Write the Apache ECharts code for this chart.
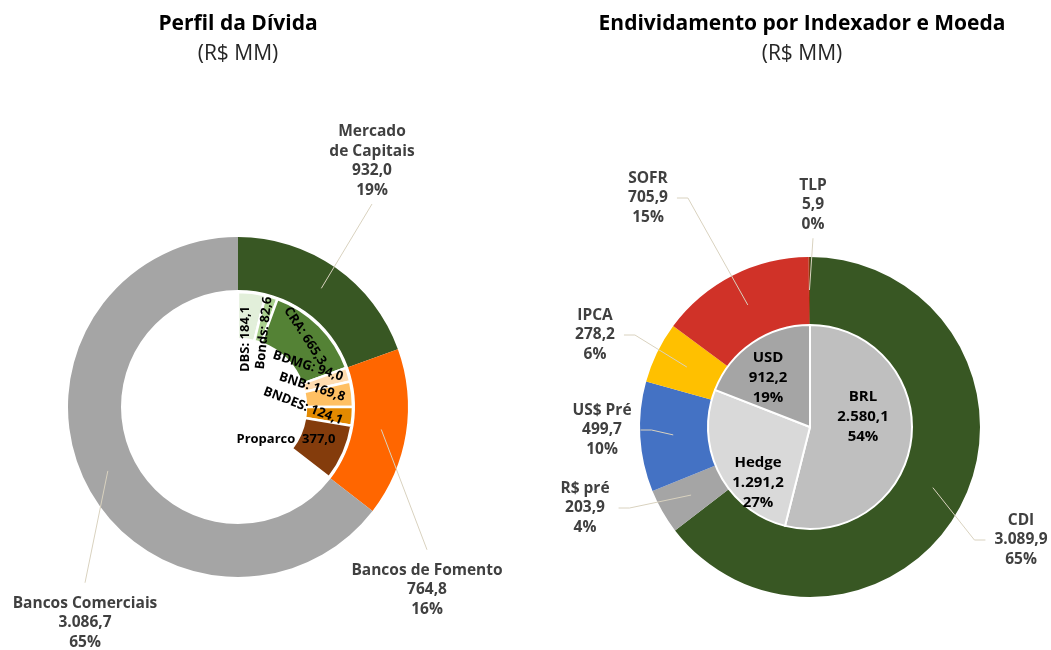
<!DOCTYPE html>
<html>
<head>
<meta charset="utf-8">
<script src="https://cdn.jsdelivr.net/npm/echarts@6/dist/echarts.min.js"></script>
<style>
  html, body { margin: 0; padding: 0; background: #fff; }
  #chart { width: 1051px; height: 650px; }
</style>
</head>
<body>
<div id="chart"></div>
<script>
// Perfil da Dívida (R$ MM)
var perfilNomes = ['Mercado\nde Capitais', 'Bancos de Fomento', 'Bancos Comerciais'];
var perfilValores = [932.0, 764.8, 3086.7];
var detalheNomes = ['DBS', 'Bonds', 'CRA', 'BDMG', 'BNB', 'BNDES', 'Proparco'];
var detalheValores = [184.1, 82.6, 665.3, 94.0, 169.8, 124.1, 377.0];

// Endividamento por Indexador e Moeda (R$ MM)
var indexNomes = ['CDI', 'R$ pré', 'US$ Pré', 'IPCA', 'SOFR', 'TLP'];
var indexValores = [3089.9, 203.9, 499.7, 278.2, 705.9, 5.9];
var moedaNomes = ['BRL', 'Hedge', 'USD'];
var moedaValores = [2580.1, 1291.2, 912.2];

// cores
var perfilCores = ['#385723', '#ff6600', '#a5a5a5'];
var detalheCores = ['#e2efda', '#a9d08e', '#548235', '#ffdcb0', '#ffc063', '#e38a00', '#843c0c'];
var indexCores = ['#385723', '#a5a5a5', '#4472c4', '#ffc000', '#d03228', '#843c0c'];
var moedaCores = ['#bfbfbf', '#d9d9d9', '#a5a5a5'];

// posições dos rótulos: [x, y, lado]
var perfilRotulos = [[372, 161, 'above'], [427, 590, 'below'], [85, 623, 'below']];
var indexRotulos = [[1021, 540, 'right'], [585, 508, 'left'], [602, 430, 'left'],
                    [595, 335, 'left'], [648, 198, 'left'], [813, 205, 'above']];
// rótulos internos: [x, y, rotação]
var detalheRotulos = [[245, 339, 90], [264, 333, 84], [305, 336, -57], [308, 366, -18],
                      [312, 387, -18], [303, 406, -21], [286, 439, 0]];
var moedaRotulos = [[863, 417], [758, 483], [768, 378]];

var FONTE = '"Open Sans", "Noto Sans", sans-serif';
var LINHA = '#d9d2bf';
var INVISIVEL = 'rgba(0,0,0,0)';

function fmt(v) {
    var s = v.toFixed(1).split('.');
    return s[0].replace(/\B(?=(\d{3})+(?!\d))/g, '.') + ',' + s[1];
}

function midAngle(values, i) {
    var tot = 0, antes = 0;
    for (var k = 0; k < values.length; k++) {
        tot += values[k];
        if (k < i) antes += values[k];
    }
    return (antes + values[i] / 2) / tot * Math.PI * 2;
}

// linha guia começa no meio do anel, como no Excel
function guia(values, pos, cx, cy, r0) {
    return function (params) {
        var p = pos[params.dataIndex];
        if (!p) return;
        var w = params.labelRect.width, h = params.labelRect.height;
        var a = midAngle(values, params.dataIndex);
        var ini = [cx + r0 * Math.sin(a), cy - r0 * Math.cos(a)];
        var pts, ex;
        if (p[2] === 'above') {
            pts = [ini, [p[0], p[1] + h / 2 + 4]];
        } else if (p[2] === 'below') {
            pts = [ini, [p[0], p[1] - h / 2 - 11]];
        } else if (p[2] === 'left') {
            ex = p[0] + w / 2 + 9;
            pts = [ini, [ex + 11, p[1]], [ex, p[1]]];
        } else {
            ex = p[0] - w / 2 - 9;
            pts = [ini, [ex - 11, p[1]], [ex, p[1]]];
        }
        return { x: p[0], y: p[1], align: 'center', verticalAlign: 'middle', labelLinePoints: pts };
    };
}

function fixo(pos) {
    return function (params) {
        var p = pos[params.dataIndex];
        if (!p) return;
        return { x: p[0], y: p[1], rotate: p[2] || 0, align: 'center', verticalAlign: 'middle' };
    };
}

function rotuloExterno(params) {
    return params.name + '\n' + fmt(params.value) + '\n' + Math.round(params.percent) + '%';
}

function montar(nomes, valores, cores) {
    return nomes.map(function (n, i) {
        return { name: n, value: valores[i], itemStyle: { color: cores ? cores[i] : INVISIVEL } };
    });
}

var detalheData = montar(detalheNomes, detalheValores, detalheCores);
// parte não detalhada (Bancos Comerciais) fica invisível
detalheData.push({
    name: '', value: perfilValores[2],
    itemStyle: { color: INVISIVEL, borderWidth: 0 },
    label: { show: false }
});

var chart = echarts.init(document.getElementById('chart'));

var tituloEstilo = { fontSize: 21, fontWeight: 'bold', color: '#000', fontFamily: FONTE, lineHeight: 26 };
var subEstilo = { fontSize: 21, color: '#262626', fontFamily: FONTE, lineHeight: 26 };

var rotuloFora = {
    position: 'outside',
    formatter: rotuloExterno,
    fontSize: 15.5,
    fontWeight: 'bold',
    color: '#404040',
    lineHeight: 19.5,
    overflow: 'none',
    alignTo: 'none'
};
var linhaFora = { show: true, lineStyle: { color: LINHA, width: 1 } };

var option = {
    animation: false,
    textStyle: { fontFamily: FONTE },
    title: [{
        text: 'Perfil da Dívida',
        subtext: '(R$ MM)',
        left: 233,
        top: 6,
        textAlign: 'center',
        itemGap: 4,
        textStyle: tituloEstilo,
        subtextStyle: subEstilo
    }, {
        text: 'Endividamento por Indexador e Moeda',
        subtext: '(R$ MM)',
        left: 797,
        top: 6,
        textAlign: 'center',
        itemGap: 4,
        textStyle: tituloEstilo,
        subtextStyle: subEstilo
    }],
    series: [{
        // anel externo - perfil
        type: 'pie',
        z: 2,
        center: [238, 407],
        radius: [117, 170],
        startAngle: 90,
        silent: true,
        data: montar(perfilNomes, perfilValores, perfilCores),
        label: { show: false },
        labelLine: { show: false }
    }, {
        // rótulos do perfil por cima do anel
        type: 'pie',
        z: 5,
        center: [238, 407],
        radius: [117, 170],
        startAngle: 90,
        silent: true,
        data: montar(perfilNomes, perfilValores),
        label: rotuloFora,
        labelLine: linhaFora,
        labelLayout: guia(perfilValores, perfilRotulos, 238, 407, 145)
    }, {
        // detalhe interno
        type: 'pie',
        z: 3,
        center: [238, 407],
        radius: [68, 115],
        startAngle: 90,
        silent: true,
        data: detalheData,
        itemStyle: { borderColor: '#fff', borderWidth: 2.5 },
        label: {
            position: 'inside',
            formatter: function (p) {
                return p.name + (p.dataIndex === detalheNomes.length - 1 ? '  ' : ': ') + fmt(p.value);
            },
            fontSize: 13,
            fontWeight: 'bold',
            color: '#000',
            overflow: 'none'
        },
        labelLine: { show: false },
        labelLayout: fixo(detalheRotulos)
    }, {
        // anel externo - indexador
        type: 'pie',
        z: 2,
        center: [810, 427],
        radius: [102, 170],
        startAngle: 90,
        silent: true,
        data: montar(indexNomes, indexValores, indexCores),
        label: { show: false },
        labelLine: { show: false }
    }, {
        // rótulos do indexador por cima do anel
        type: 'pie',
        z: 5,
        center: [810, 427],
        radius: [102, 170],
        startAngle: 90,
        silent: true,
        data: montar(indexNomes, indexValores),
        label: rotuloFora,
        labelLine: linhaFora,
        labelLayout: guia(indexValores, indexRotulos, 810, 427, 137)
    }, {
        // pizza interna - moeda
        type: 'pie',
        z: 3,
        center: [810, 427],
        radius: [0, 102],
        startAngle: 90,
        silent: true,
        data: montar(moedaNomes, moedaValores, moedaCores),
        itemStyle: { borderColor: '#fff', borderWidth: 2 },
        label: {
            position: 'inside',
            formatter: rotuloExterno,
            fontSize: 15,
            fontWeight: 'bold',
            color: '#000',
            lineHeight: 20,
            overflow: 'none'
        },
        labelLine: { show: false },
        labelLayout: fixo(moedaRotulos)
    }]
};

chart.setOption(option);
</script>
</body>
</html>
